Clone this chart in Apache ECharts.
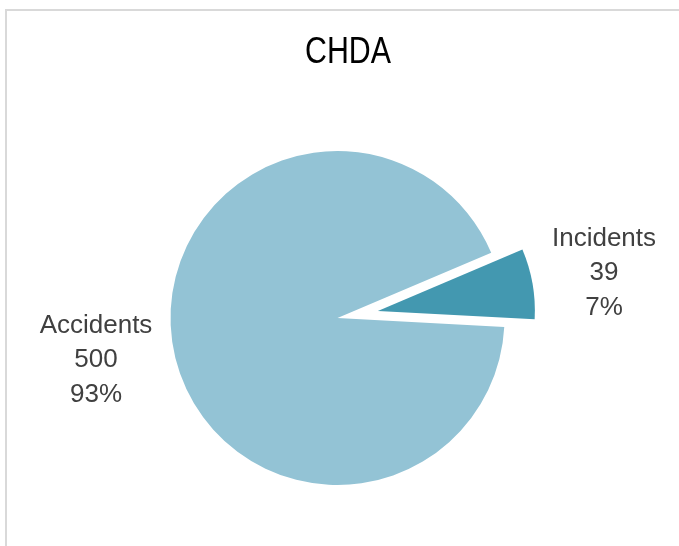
<!DOCTYPE html>
<html>
<head>
<meta charset="utf-8">
<script src="https://cdn.jsdelivr.net/npm/echarts@6/dist/echarts.min.js"></script>
<style>
  html, body { margin: 0; padding: 0; background: #fff; }
  #chart { width: 679px; height: 546px; }
</style>
</head>
<body>
<div id="chart"></div>
<script>
// data
const categories = ['Incidents', 'Accidents']
const counts = [39, 500]
const sliceColors = ['#4398b0', '#93c3d5']
const chartTitle = 'CHDA'

const labelPos = [[604, 273], [96, 360]] // centre of each label block
const font = "'Liberation Sans', Arial, sans-serif"

const pieCenter = [337.5, 318]
const startAngle = 23
const explode = 41 // how far the Incidents slice is pulled out

// push the Incidents ring out along the middle of its slice
const total = counts.reduce((a, b) => a + b, 0)
const midAngle = (startAngle - counts[0] / total * 180) * Math.PI / 180
const explodedCenter = [
  pieCenter[0] + explode * Math.cos(midAngle),
  pieCenter[1] - explode * Math.sin(midAngle)
]

const chart = echarts.init(document.getElementById('chart'))

// one ring per slice so the pulled-out slice can be a bit smaller, like the original
const sliceSeries = (showIdx, radius, center) => ({
  type: 'pie',
  center: center,
  radius: radius,
  startAngle: startAngle,
  percentPrecision: 0,
  silent: true,
  emphasis: { disabled: true },
  label: {
    formatter: '{b}\n{c}\n{d}%',
    fontFamily: font,
    fontSize: 26,
    lineHeight: 34.5,
    color: '#404040',
    align: 'center',
    overflow: 'none'
  },
  labelLine: { show: false },
  labelLayout: (p) => ({
    x: labelPos[p.dataIndex][0],
    y: labelPos[p.dataIndex][1],
    align: 'center',
    verticalAlign: 'middle'
  }),
  data: categories.map((name, i) => ({
    name,
    value: counts[i],
    label: { show: i === showIdx },
    itemStyle: { color: i === showIdx ? sliceColors[i] : 'rgba(0,0,0,0)' }
  }))
})

const option = {
  animation: false,
  graphic: [{
    type: 'rect',
    shape: { x: 6, y: 10, width: 720, height: 580 },
    style: { fill: 'none', stroke: '#d9d9d9', lineWidth: 2 },
    silent: true
  }, {
    type: 'text',
    x: 348,
    y: 52.5,
    scaleX: 0.82,
    style: {
      text: chartTitle,
      fontFamily: font,
      fontSize: 37,
      fill: '#000',
      align: 'center',
      verticalAlign: 'middle'
    },
    silent: true
  }],
  series: [
    sliceSeries(1, 167, pieCenter),
    sliceSeries(0, 157, explodedCenter)
  ]
}

chart.setOption(option)
</script>
</body>
</html>
